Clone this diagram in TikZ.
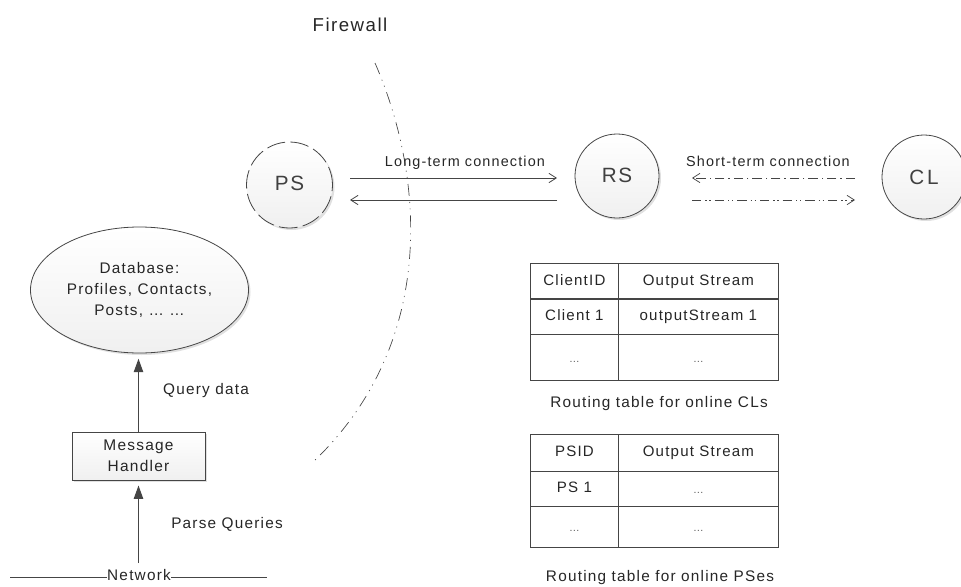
\documentclass[tikz,border=0pt]{standalone}
\usepackage{fontspec}
\setmainfont{Liberation Sans}[LetterSpace=8]
\usetikzlibrary{arrows.meta,shadows,calc,shapes.geometric}
\definecolor{ink}{gray}{0.27}
\tikzset{
  softshadow/.style={drop shadow={shadow xshift=1.5pt,shadow yshift=-1.5pt,opacity=0.12,fill=black}},
  txt/.style={inner sep=0pt,text=black!85,font=\fontsize{11.5pt}{13pt}\selectfont,align=center},
  lbl/.style={txt,font=\fontsize{10.8pt}{12pt}\selectfont},
  circ/.style={circle,draw=ink,line width=0.6pt,top color=white,bottom color=black!6,softshadow,inner sep=0pt,minimum size=63pt,font=\fontsize{15.5pt}{18pt}\selectfont,text=black!75},
  dbase/.style={ellipse,draw=ink,line width=0.6pt,top color=white,bottom color=black!6,softshadow,inner sep=0pt,font=\fontsize{11.5pt}{16pt}\selectfont,align=center,text=black!85},
  mh/.style={rectangle,draw=ink,line width=0.7pt,top color=white,bottom color=black!6,softshadow,inner sep=0pt,font=\fontsize{11.6pt}{15.75pt}\selectfont,align=center,text=black!85},
  cell/.style={rectangle,draw=ink,line width=0.6pt,inner sep=0pt,font=\fontsize{11.3pt}{13pt}\selectfont,text=black!85,anchor=north west,text height=6pt,text depth=0pt},
  dots/.style={font=\fontsize{8pt}{12pt}\selectfont,text=black!65,text height=7.5pt,text depth=0pt},
  openarr/.style={-{Straight Barb[length=5.5pt,width=7pt]},draw=ink,line width=0.6pt},
  solidarr/.style={-{Triangle[length=10pt,width=7pt]},draw=ink,line width=0.9pt},
  sdash/.style={draw=ink,line width=0.55pt,dash pattern=on 7pt off 3pt on 1pt off 3pt},
  ddash/.style={draw=ink,line width=0.55pt,dash pattern=on 7pt off 3pt on 1pt off 2pt on 1pt off 3pt},
  fwall/.style={draw=ink,line width=0.5pt,dash pattern=on 9pt off 4.5pt on 0.8pt off 4pt on 0.8pt off 4.5pt},
}
\begin{document}
\begin{tikzpicture}[x=0.75pt,y=-0.75pt]
\useasboundingbox (0,0) rectangle (961,586);
\begin{scope}
\clip (0,0) rectangle (961,586);
% firewall
\coordinate (fwA) at (375,63);
\coordinate (fwB) at (312,463);
\draw[fwall] (fwA) .. controls (426,180) and (436,346) .. (fwB);
\node[txt,font=\fontsize{14pt}{16pt}\selectfont] (fwlabel) at (350,25) {Firewall};
% circles
\node[circ,minimum size=64.5pt,dash pattern=on 14pt off 4pt] (ps) at (289.5,185) {\raisebox{2pt}{PS}};
\node[circ] (rs) at (617,176) {\raisebox{1.5pt}{RS}};
\node[circ] (cl) at (924,177) {C\hspace{2pt}L};
% long term
\coordinate (a1) at (350,178); \coordinate (a2) at (557,178);
\coordinate (b1) at (557,200); \coordinate (b2) at (350,200);
\draw[openarr] (a1) -- (a2);
\draw[openarr] (b1) -- (b2);
\node[lbl] (lt) at (465,163) {Long-term connection};
% short term
\coordinate (c1) at (855,178); \coordinate (c2) at (692,178);
\coordinate (d1) at (692,200); \coordinate (d2) at (855,200);
\draw[sdash,-{Straight Barb[length=5.5pt,width=7pt]}] (c1) -- (c2);
\draw[ddash,-{Straight Barb[length=5.5pt,width=7pt]}] (d1) -- (d2);
\node[lbl] (st) at (768,161) {Short-term connection};
% left stack
\node[dbase,minimum width=163.5pt,minimum height=94.5pt] (db) at (139.5,290) {Database:\\Profiles, Contacts,\\Posts, \dots\ \dots};
\node[mh,minimum width=99.75pt,minimum height=36pt] (mh) at (138.5,456) {Message\\Handler};
\node[txt] (net) at (139,575) {Network};
\coordinate (nl) at (10,577); \coordinate (nr) at (267,577);
\draw[ink,line width=0.7pt] (nl) -- (net.west |- nl) (net.east |- nr) -- (nr);
\draw[solidarr,shorten >=4pt] (mh.north) -- (mh.north |- db.south);
\coordinate (n0) at (138.5,563);
\draw[solidarr,shorten >=3.75pt] (n0) -- (mh.south);
\node[txt] (qd) at (206,391) {Query data};
\node[txt] (pq) at (227,524) {Parse Queries};
% table 1
\node[cell,minimum width=66pt,minimum height=26.6pt] (t11) at (530,263) {ClientID};
\node[cell,minimum width=120pt,minimum height=26.6pt] (t12) at (618,263) {Output Stream};
\node[cell,minimum width=66pt,minimum height=26.6pt] (t21) at (530,298.5) {Client 1};
\node[cell,minimum width=120pt,minimum height=26.6pt] (t22) at (618,298.5) {outputStream 1};
\node[cell,dots,minimum width=66pt,minimum height=34.5pt] (t31) at (530,334) {\textellipsis};
\node[cell,dots,minimum width=120pt,minimum height=34.5pt] (t32) at (618,334) {\textellipsis};
\node[txt] (c1cap) at (659,404) {Routing table for online CLs};
% table 2
\node[cell,minimum width=66pt,minimum height=27.75pt] (u11) at (530,434) {PSID};
\node[cell,minimum width=120pt,minimum height=27.75pt] (u12) at (618,434) {Output Stream};
\node[cell,minimum width=66pt,minimum height=26.25pt] (u21) at (530,471) {PS 1};
\node[cell,dots,minimum width=120pt,minimum height=26.25pt] (u22) at (618,471) {\textellipsis};
\node[cell,dots,minimum width=66pt,minimum height=30.75pt] (u31) at (530,506) {\textellipsis};
\node[cell,dots,minimum width=120pt,minimum height=30.75pt] (u32) at (618,506) {\textellipsis};
\node[txt] (c2cap) at (660,578) {Routing table for online PSes};
\end{scope}
\end{tikzpicture}
\end{document}
